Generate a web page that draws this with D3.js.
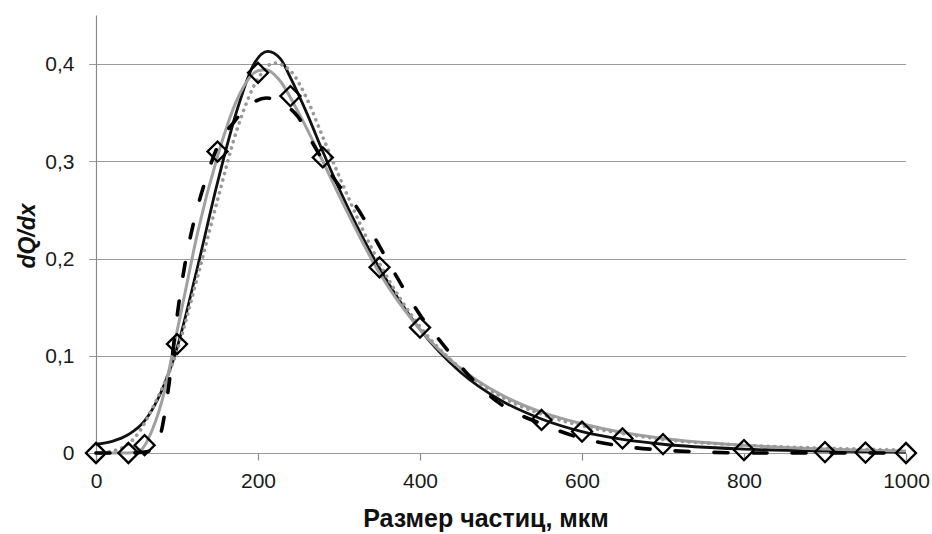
<!DOCTYPE html>
<meta charset="utf-8">
<style>
body { margin: 0; background: #fff; }
svg { display: block; }
.tick text { font-family: 'Liberation Sans', Arial, sans-serif; font-size: 21px; fill: #1a1a1a; }
.grid line { stroke: #9a9a9a; stroke-width: 1.2; }
.axis path, .axis line { stroke: #8a8a8a; stroke-width: 1.2; }
.series { fill: none; }
</style>
<svg width="932" height="534"></svg>
<script src="https://d3js.org/d3.v7.min.js"></script>
<script>
// tick values
var xTicks = [0, 200, 400, 600, 800, 1000];
var yTicks = [0, 0.1, 0.2, 0.3, 0.4];

// measured points (diamonds)
var markX = [0, 40, 60, 100, 150, 200, 240, 280, 350, 400, 550, 600, 650, 700, 800, 900, 950, 1000];
var markY = [0, 0, 0.008, 0.112, 0.31, 0.391, 0.367, 0.304, 0.191, 0.129, 0.034, 0.022, 0.015, 0.009, 0.003, 0.001, 0.0005, 0];

// black solid curve
var blackX = [0, 20, 40, 60, 80, 100, 125, 150, 175, 195, 212, 228, 240, 260, 280, 300, 350, 400, 450, 500, 550, 600, 650, 700, 800, 900, 1000];
var blackY = [0.009, 0.012, 0.019, 0.033, 0.062, 0.108, 0.19, 0.278, 0.355, 0.400, 0.413, 0.405, 0.386, 0.35, 0.31, 0.272, 0.19, 0.127, 0.083, 0.054, 0.035, 0.022, 0.014, 0.009, 0.004, 0.002, 0.001];

// gray solid curve
var grayX = [0, 40, 55, 70, 85, 95, 110, 125, 150, 175, 200, 210, 225, 250, 280, 300, 350, 400, 450, 500, 550, 600, 650, 700, 800, 900, 1000];
var grayY = [0, 0, 0.003, 0.025, 0.065, 0.105, 0.165, 0.225, 0.305, 0.365, 0.393, 0.394, 0.385, 0.35, 0.3, 0.265, 0.185, 0.127, 0.087, 0.06, 0.042, 0.03, 0.021, 0.015, 0.008, 0.004, 0.002];

// gray dotted curve
var dotX = [0, 25, 50, 75, 100, 125, 150, 175, 200, 220, 240, 260, 280, 300, 350, 400, 450, 500, 550, 600, 650, 700, 800, 900, 1000];
var dotY = [0, 0.003, 0.018, 0.055, 0.105, 0.18, 0.26, 0.335, 0.385, 0.401, 0.393, 0.365, 0.325, 0.285, 0.195, 0.13, 0.087, 0.058, 0.04, 0.028, 0.02, 0.014, 0.008, 0.005, 0.003];

// black dashed curve
var dashX = [0, 40, 60, 70, 80, 90, 100, 110, 120, 135, 150, 170, 190, 210, 230, 250, 270, 300, 320, 345, 370, 400, 430, 460, 500, 550, 600, 650, 700, 750, 800, 900, 1000];
var dashY = [0, 0, 0.001, 0.004, 0.02, 0.07, 0.14, 0.195, 0.235, 0.28, 0.315, 0.34, 0.358, 0.365, 0.36, 0.345, 0.315, 0.275, 0.255, 0.22, 0.183, 0.142, 0.11, 0.08, 0.05, 0.03, 0.015, 0.007, 0.003, 0.001, 0, 0, 0];

var svg = d3.select("svg");

var x = d3.scaleLinear().domain([0, 1000]).range([96, 906]);
var y = d3.scaleLinear().domain([0, 0.45]).range([453, 15.4]);

function pts(xs, ys) {
	return xs.map(function(d, i) { return [d, ys[i]]; });
}

// grid
svg.append("g")
	.attr("class", "grid")
	.selectAll("line")
	.data(yTicks)
	.enter().append("line")
	.attr("x1", x(0) - 7)
	.attr("x2", x(1000))
	.attr("y1", function(d) { return Math.round(y(d)) + 0.5; })
	.attr("y2", function(d) { return Math.round(y(d)) + 0.5; });

// y axis
var yAxis = svg.append("g")
	.attr("class", "axis")
	.attr("transform", "translate(" + (x(0) + 0.5) + ",0)")
	.call(d3.axisLeft(y)
		.tickValues(yTicks)
		.tickSize(0)
		.tickPadding(22)
		.tickFormat(function(d) { return String(d).replace(".", ","); }));
yAxis.select(".domain").attr("d", "M0," + y(0.45) + "V" + (y(0) + 7));

// x axis
var xAxis = svg.append("g")
	.attr("class", "axis")
	.attr("transform", "translate(0," + (Math.round(y(0)) + 0.5) + ")")
	.call(d3.axisBottom(x)
		.tickValues(xTicks)
		.tickSize(7)
		.tickSizeOuter(0)
		.tickPadding(13)
		.tickFormat(d3.format("d")));
xAxis.select(".domain").remove();

var line = d3.line()
	.x(function(d) { return x(d[0]); })
	.y(function(d) { return y(d[1]); })
	.curve(d3.curveMonotoneX);

svg.append("path")
	.attr("class", "series")
	.attr("d", line(pts(blackX, blackY)))
	.attr("stroke", "#111")
	.attr("stroke-width", 2.8);

svg.append("path")
	.attr("class", "series")
	.attr("d", line(pts(grayX, grayY)))
	.attr("stroke", "#a0a0a0")
	.attr("stroke-width", 3);

svg.append("path")
	.attr("class", "series")
	.attr("d", line(pts(dotX, dotY)))
	.attr("stroke", "#999")
	.attr("stroke-width", 3.6)
	.attr("stroke-linecap", "round")
	.attr("stroke-dasharray", "0.1 6.5");

svg.append("path")
	.attr("class", "series")
	.attr("d", line(pts(dashX, dashY)))
	.attr("stroke", "#000")
	.attr("stroke-width", 3.6)
	.attr("stroke-linecap", "round")
	.attr("stroke-dasharray", "14 25");

// diamonds
var diamond = d3.symbol().type(d3.symbolSquare).size(200)();
svg.append("g")
	.selectAll("path")
	.data(pts(markX, markY))
	.enter().append("path")
	.attr("d", diamond)
	.attr("transform", function(d) { return "translate(" + x(d[0]) + "," + y(d[1]) + ") rotate(45)"; })
	.attr("fill", "none")
	.attr("stroke", "#000")
	.attr("stroke-width", 2.3);

// titles
svg.append("text")
	.attr("x", 486)
	.attr("y", 527)
	.attr("text-anchor", "middle")
	.style("font-family", "'Liberation Sans', Arial, sans-serif")
	.style("font-size", "25px")
	.style("font-weight", "bold")
	.style("fill", "#111")
	.text("Размер частиц, мкм");

svg.append("text")
	.attr("transform", "translate(35,236) rotate(-90)")
	.attr("text-anchor", "middle")
	.style("font-family", "'Liberation Sans', Arial, sans-serif")
	.style("font-size", "23px")
	.style("font-weight", "bold")
	.style("font-style", "italic")
	.style("fill", "#111")
	.text("dQ/dx");
</script>
